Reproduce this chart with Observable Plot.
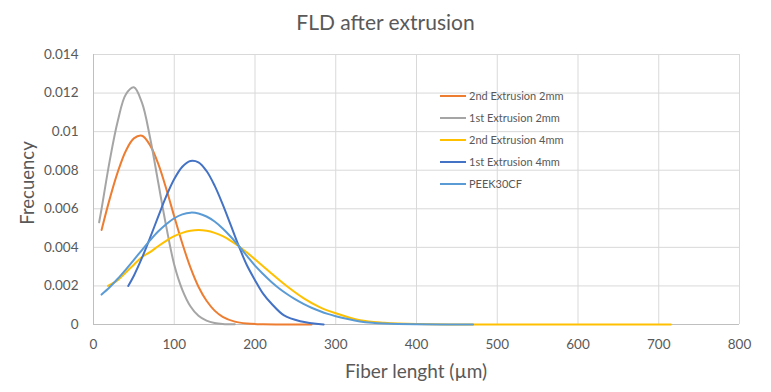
<!DOCTYPE html>
<html>
<head>
<meta charset="utf-8">
<script src="https://cdn.jsdelivr.net/npm/d3@7"></script>
<script src="https://cdn.jsdelivr.net/npm/@observablehq/plot@0.6"></script>
<style>
  body { margin: 0; background: #fff; font-family: Lato, "Open Sans", sans-serif; }
  #wrap { position: relative; width: 771px; height: 392px; overflow: hidden; }
  #title { position: absolute; left: 0; top: 11px; width: 771px; text-align: center; font-size: 21px; line-height: 22px; color: #595959; }
  #chart { position: absolute; left: 0; top: 40px; }
  .axt { position: absolute; color: #595959; white-space: nowrap; }
  #legend { position: absolute; left: 440px; top: 0; }
  .lg { position: absolute; left: 0; height: 14px; width: 200px; font-size: 11px; line-height: 14px; color: #595959; white-space: nowrap; }
  .lg span.sw { position: absolute; left: 0; top: 6px; width: 26px; height: 2px; }
  .lg span.tx { position: absolute; left: 29px; top: 0; }
</style>
</head>
<body>
<div id="wrap">
  <div id="title">FLD after extrusion</div>
  <div id="chart"></div>
  <div class="axt" id="xt" style="left:0;width:832px;text-align:center;top:360px;font-size:19px;line-height:22px;">Fiber lenght (µm)</div>
  <div class="axt" id="yt" style="left:27px;top:183px;font-size:18.5px;line-height:22px;transform:translate(-50%,-50%) rotate(-90deg);">Frecuency</div>
  <div id="legend"></div>
</div>
<script>
// ---- Data ----
const seriesNames = ["2nd Extrusion 2mm", "1st Extrusion 2mm", "2nd Extrusion 4mm", "1st Extrusion 4mm", "PEEK30CF"];
const seriesColors = ["#ED7D31", "#A5A5A5", "#FFC000", "#4472C4", "#5B9BD5"];

const ext2nd2mmX = [10, 20, 30, 40, 50, 60, 70, 80, 90, 100, 110, 120, 130, 140, 150, 160, 175, 190, 210, 240, 270];
const ext2nd2mmY = [0.0049, 0.0065, 0.0079, 0.0090, 0.00965, 0.00979, 0.0093, 0.00835, 0.00705, 0.0056, 0.0042, 0.00296, 0.00196, 0.00123, 0.00072, 0.0004, 0.00015, 0.00005, 0.00001, 0, 0];

const ext1st2mmX = [7, 10, 20, 30, 40, 50, 60, 70, 80, 90, 100, 110, 120, 130, 140, 150, 160, 175];
const ext1st2mmY = [0.0053, 0.0060, 0.00847, 0.01054, 0.01193, 0.0123, 0.0115, 0.0097, 0.0074, 0.0051, 0.0031, 0.0018, 0.00095, 0.00045, 0.0002, 0.00008, 0.00003, 0.00001];

const ext2nd4mmX = [18, 30, 40, 50, 60, 70, 80, 90, 100, 110, 120, 130, 140, 150, 160, 170, 180, 190, 200, 210, 220, 240, 260, 280, 300, 330, 360, 400, 450, 500, 600, 715];
const ext2nd4mmY = [0.0020, 0.0023, 0.0027, 0.0031, 0.0035, 0.00375, 0.00406, 0.00434, 0.00458, 0.00475, 0.00486, 0.0049, 0.00486, 0.00475, 0.00458, 0.00434, 0.00406, 0.00373, 0.00338, 0.00302, 0.00266, 0.00197, 0.00137, 0.0009, 0.00058, 0.00022, 0.00009, 0.00002, 0, 0, 0, 0];

const ext1st4mmX = [43, 50, 60, 70, 80, 90, 100, 110, 120, 130, 140, 150, 160, 170, 180, 190, 200, 210, 220, 236, 256, 285];
const ext1st4mmY = [0.0020, 0.00253, 0.00345, 0.00449, 0.00558, 0.00664, 0.00754, 0.00818, 0.00848, 0.00841, 0.00796, 0.0072, 0.00623, 0.00515, 0.00406, 0.00307, 0.0023, 0.0016, 0.0011, 0.00047, 0.00017, 0];

const peekX = [10, 20, 30, 40, 50, 60, 70, 80, 90, 100, 110, 120, 130, 140, 150, 160, 170, 180, 190, 200, 210, 220, 230, 240, 250, 260, 270, 280, 290, 300, 315, 330, 345, 360, 400, 470];
const peekY = [0.00155, 0.00193, 0.00237, 0.00285, 0.00335, 0.00386, 0.00436, 0.00482, 0.0052, 0.00551, 0.00571, 0.0058, 0.00576, 0.0056, 0.00534, 0.00498, 0.00455, 0.00407, 0.00356, 0.00305, 0.00262, 0.00222, 0.00187, 0.00157, 0.0013, 0.00107, 0.00087, 0.0007, 0.00055, 0.00043, 0.00028, 0.00016, 0.00009, 0.00005, 0.00001, 0];

const xTicks = [0, 100, 200, 300, 400, 500, 600, 700, 800];
const yTicks = [0, 0.002, 0.004, 0.006, 0.008, 0.01, 0.012, 0.014];

const seriesX = [ext2nd2mmX, ext1st2mmX, ext2nd4mmX, ext1st4mmX, peekX];
const seriesY = [ext2nd2mmY, ext1st2mmY, ext2nd4mmY, ext1st4mmY, peekY];

const tables = seriesNames.map((name, i) => seriesX[i].map((x, j) => ({series: name, x, y: seriesY[i][j]})));

const chart = Plot.plot({
  width: 771,
  height: 352,
  marginTop: 14,
  marginBottom: 68,
  marginLeft: 93,
  marginRight: 32,
  style: {fontFamily: "Lato, 'Open Sans', sans-serif", fontSize: "13.5px", color: "#595959", background: "transparent"},
  x: {domain: [0, 800]},
  y: {domain: [0, 0.014]},
  marks: [
    Plot.gridX(xTicks, {stroke: "#d9d9d9", strokeOpacity: 1, strokeWidth: 1}),
    Plot.gridY(yTicks, {stroke: "#d9d9d9", strokeOpacity: 1, strokeWidth: 1}),
    Plot.ruleX([0], {stroke: "#bfbfbf", strokeWidth: 1}),
    Plot.ruleY([0], {stroke: "#bfbfbf", strokeWidth: 1}),
    ...tables.map((t, i) => Plot.line(t, {x: "x", y: "y", stroke: seriesColors[i], strokeWidth: 2, curve: "catmull-rom"})),
    Plot.axisX(xTicks, {tickSize: 0, tickPadding: 15, label: null, fill: "#595959", fontSize: 13.5}),
    Plot.axisY(yTicks, {tickSize: 0, tickPadding: 15, label: null, fill: "#595959", fontSize: 13.5, tickFormat: d => String(+d.toFixed(3))})
  ]
});
document.getElementById("chart").appendChild(chart);

// legend (positioned inside plot area, like the reference)
const legend = document.getElementById("legend");
seriesNames.forEach((name, i) => {
  const row = document.createElement("div");
  row.className = "lg";
  row.style.top = (89 + i * 22) + "px";
  row.innerHTML = `<span class="sw" style="background:${seriesColors[i]}"></span><span class="tx">${name}</span>`;
  legend.appendChild(row);
});
</script>
</body>
</html>
